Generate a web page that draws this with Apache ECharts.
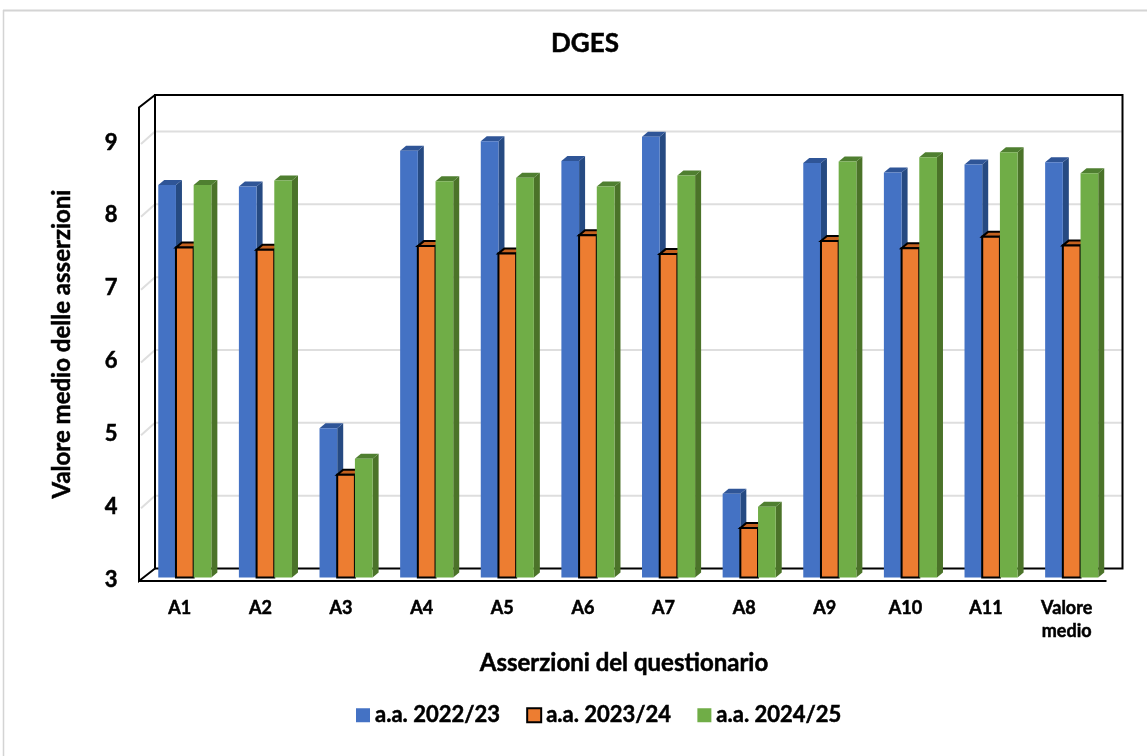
<!DOCTYPE html>
<html>
<head>
<meta charset="utf-8">
<style>html,body{margin:0;padding:0;background:#fff}#c{width:1147px;height:756px}</style>
<script src="https://cdn.jsdelivr.net/npm/echarts@6/dist/echarts.min.js"></script>
</head>
<body>
<div id="c"></div>
<script>
const categories = ['A1','A2','A3','A4','A5','A6','A7','A8','A9','A10','A11','Valore\nmedio'];
const a2223 = [8.39,8.37,5.05,8.86,8.99,8.72,9.05,4.15,8.69,8.56,8.67,8.70];
const a2324 = [7.53,7.50,4.41,7.55,7.45,7.70,7.44,3.68,7.62,7.52,7.68,7.56];
const a2425 = [8.39,8.45,4.63,8.44,8.49,8.37,8.52,3.97,8.71,8.77,8.84,8.55];
const gridValues = [3,4,5,6,7,8,9];
const wallTop = 9.5;
const FONT = 'Lato';
const heavy = {fontFamily:FONT, fontWeight:'bold', color:'#000', textBorderColor:'#000', textBorderWidth:0.5};

const chart = echarts.init(document.getElementById('c'), null, {renderer:'canvas'});

// offsets of the bar plane to the back wall and to the front edge of the box
const BACK = {x:10.5, y:-9};
const FRONT = {x:-5.5, y:3.5};
const DEPTH = {x:6, y:-5};

function bar3d(slot, colors, bordered){
  return function(params, api){
    const i = api.value(0), v = api.value(1);
    const band = api.size([1,0])[0];
    const w = band*0.2195;
    const c = api.coord([i, v]);
    const b = api.coord([i, 3]);
    const x0 = c[0] + (slot-0.5)*w, x1 = x0 + w, yT = c[1], yB = b[1];
    const stroke = bordered ? {stroke:'#000', lineWidth:2} : {};
    const children = [
      {type:'polygon', shape:{points:[[x1,yT],[x1+DEPTH.x,yT+DEPTH.y],[x1+DEPTH.x,yB+DEPTH.y],[x1,yB]]},
        style:{fill:colors.side}},
      {type:'polygon', shape:{points:[[x0,yT],[x0+DEPTH.x,yT+DEPTH.y],[x1+DEPTH.x,yT+DEPTH.y],[x1,yT]]},
        style:Object.assign({fill:colors.top}, stroke)},
      {type:'rect', shape:{x:x0,y:yT,width:w,height:yB-yT},
        style:Object.assign({fill:colors.front}, stroke)}
    ];
    return {type:'group', children};
  };
}

function plane(api){
  const band = api.size([1,0])[0];
  const first = api.coord([0,3])[0] - band/2;
  const last = api.coord([categories.length-1,3])[0] + band/2;
  return {left:first, right:last};
}

const gridSeries = {
  type:'custom', name:'griglia', coordinateSystem:'cartesian2d', z:1, silent:true,
  data: gridValues.slice(1).map(v=>[0,v]),
  renderItem(params, api){
    const p = plane(api);
    const y = api.coord([0, api.value(1)])[1];
    return {type:'polyline', shape:{points:[[p.left+FRONT.x+2,y+FRONT.y],[p.left+BACK.x,y+BACK.y],[p.right+BACK.x,y+BACK.y]]},
      style:{stroke:'#DEDEDE', lineWidth:2, fill:null}};
  }
};

const frameSeries = {
  type:'custom', name:'cornice', coordinateSystem:'cartesian2d', z:2, silent:true,
  data:[[0,3]],
  renderItem(params, api){
    const p = plane(api);
    const yB = api.coord([0,3])[1], yT = api.coord([0,wallTop])[1];
    const s = {stroke:'#000', lineWidth:2, fill:null};
    const L = p.left+BACK.x, R = p.right+BACK.x, FL = p.left+FRONT.x;
    return {type:'group', children:[
      {type:'polyline', shape:{points:[[L,yB+BACK.y],[L,yT+BACK.y],[R,yT+BACK.y],[R,yB+BACK.y],[L,yB+BACK.y]]}, style:s},
      {type:'polyline', shape:{points:[[L,yT+BACK.y],[FL,yT+FRONT.y],[FL,yB+FRONT.y],[L,yB+BACK.y]]}, style:s}
    ]};
  }
};

const frontEdgeSeries = {
  type:'custom', name:'base', coordinateSystem:'cartesian2d', z:2, silent:true,
  data:[[0,3]],
  renderItem(params, api){
    const p = plane(api);
    const yB = api.coord([0,3])[1];
    return {type:'line', shape:{x1:p.left+FRONT.x,y1:yB+FRONT.y,x2:p.right+FRONT.x,y2:yB+FRONT.y},
      style:{stroke:'#000', lineWidth:2}};
  }
};

const palette = {
  blue:{front:'#4472C4', side:'#264A82', top:'#2F5597'},
  orange:{front:'#ED7D31', side:'#B45C20', top:'#C4611E'},
  green:{front:'#70AD47', side:'#4B7329', top:'#4F7F30'}
};

function barSeries(name, values, slot, colors, bordered){
  return {
    type:'custom', name, coordinateSystem:'cartesian2d', z:3+slot, silent:true,
    data: values.map((v,i)=>[i,v]),
    encode:{x:0,y:1},
    itemStyle: bordered ? {color:colors.front, borderColor:'#000', borderWidth:1.5} : {color:colors.front},
    renderItem: bar3d(slot, colors, bordered)
  };
}

chart.setOption({
  animation:false,
  backgroundColor:'#fff',
  textStyle:{fontFamily:FONT},
  title:[
    {text:'DGES', left:580, top:26, textAlign:'center',
      textStyle:Object.assign({fontSize:26}, heavy)},
    {text:'Asserzioni del questionario', left:619, top:646, textAlign:'center',
      textStyle:Object.assign({fontSize:24}, heavy)}
  ],
  legend:{
    data:['a.a. 2022/23','a.a. 2023/24','a.a. 2024/25'],
    left:351, top:699, orient:'horizontal',
    icon:'rect', itemWidth:14, itemHeight:14, itemGap:26,
    textStyle:Object.assign({fontSize:22, padding:[0,0,0,0]}, heavy)
  },
  grid:{left:144.5, width:967.5, top:140.5, height:437, containLabel:false},
  xAxis:{
    type:'category', data:categories, boundaryGap:true,
    axisLine:{show:false}, axisTick:{show:false}, splitLine:{show:false},
    axisLabel:Object.assign({interval:0, margin:19, fontSize:18, lineHeight:23, padding:[0,10,0,0]}, heavy)
  },
  yAxis:{
    type:'value', min:3, max:9, interval:1,
    axisLine:{show:false}, axisTick:{show:false}, splitLine:{show:false},
    axisLabel:Object.assign({margin:27, fontSize:22, verticalAlign:'top', lineHeight:4}, heavy)
  },
  series:[
    gridSeries, frameSeries,
    barSeries('a.a. 2022/23', a2223, 0-1, palette.blue, false),
    barSeries('a.a. 2023/24', a2324, 0, palette.orange, true),
    barSeries('a.a. 2024/25', a2425, 1, palette.green, false),
    frontEdgeSeries
  ],
  graphic:[
    {type:'line', silent:true, shape:{x1:3,y1:10.5,x2:1147,y2:10.5}, style:{stroke:'#D4D4D4',lineWidth:2}},
    {type:'line', silent:true, shape:{x1:3.5,y1:10,x2:3.5,y2:756}, style:{stroke:'#D4D4D4',lineWidth:1.5}},
    {type:'text', silent:true, x:62, y:344, rotation:Math.PI/2, originX:0, originY:0,
      style:{text:'Valore medio delle asserzioni', fontFamily:FONT, fontWeight:'bold', fontSize:24, fill:'#000', stroke:'#000', lineWidth:0.5, textAlign:'center', textVerticalAlign:'middle'}}
  ]
});
</script>
</body>
</html>
